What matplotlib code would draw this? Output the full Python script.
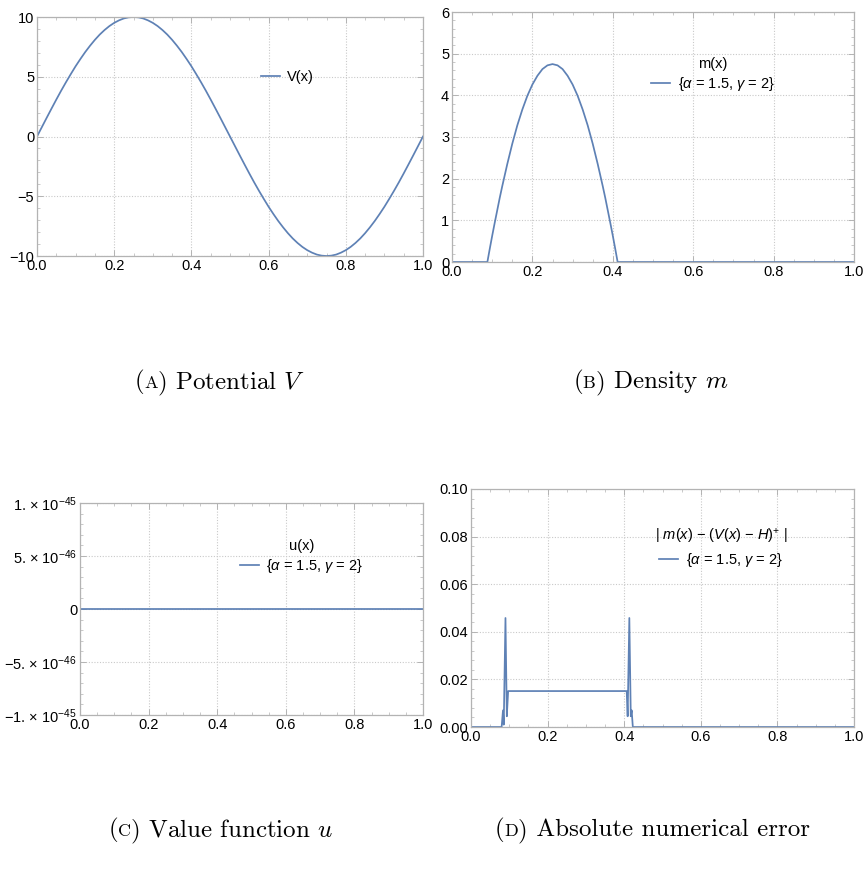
import matplotlib
matplotlib.use("Agg")
import matplotlib.pyplot as plt
from matplotlib.ticker import FixedLocator, AutoMinorLocator

plt.rcParams['font.family'] = ['Liberation Sans', 'DejaVu Sans']
plt.rcParams['mathtext.fontset'] = 'custom'
plt.rcParams['mathtext.rm'] = 'Liberation Sans'
plt.rcParams['mathtext.it'] = 'Liberation Sans:italic'
plt.rcParams['mathtext.bf'] = 'Liberation Sans:bold'
plt.rcParams['axes.unicode_minus'] = True

# ---------------- data ----------------
v_x = [0.0, 0.0125, 0.025, 0.0375, 0.05, 0.0625, 0.075, 0.0875, 0.1, 0.1125,
       0.125, 0.1375, 0.15, 0.1625, 0.175, 0.1875, 0.2, 0.2125, 0.225, 0.2375,
       0.25, 0.2625, 0.275, 0.2875, 0.3, 0.3125, 0.325, 0.3375, 0.35, 0.3625,
       0.375, 0.3875, 0.4, 0.4125, 0.425, 0.4375, 0.45, 0.4625, 0.475, 0.4875,
       0.5, 0.5125, 0.525, 0.5375, 0.55, 0.5625, 0.575, 0.5875, 0.6, 0.6125,
       0.625, 0.6375, 0.65, 0.6625, 0.675, 0.6875, 0.7, 0.7125, 0.725, 0.7375,
       0.75, 0.7625, 0.775, 0.7875, 0.8, 0.8125, 0.825, 0.8375, 0.85, 0.8625,
       0.875, 0.8875, 0.9, 0.9125, 0.925, 0.9375, 0.95, 0.9625, 0.975, 0.9875,
       1.0]
v_y = [0.0, 0.78, 1.56, 2.33, 3.09, 3.83, 4.54, 5.22, 5.88, 6.49,
       7.07, 7.60, 8.09, 8.53, 8.91, 9.24, 9.51, 9.72, 9.88, 9.97,
       10.0, 9.97, 9.88, 9.72, 9.51, 9.24, 8.91, 8.53, 8.09, 7.60,
       7.07, 6.49, 5.88, 5.22, 4.54, 3.83, 3.09, 2.33, 1.56, 0.78,
       0.0, -0.78, -1.56, -2.33, -3.09, -3.83, -4.54, -5.22, -5.88, -6.49,
       -7.07, -7.60, -8.09, -8.53, -8.91, -9.24, -9.51, -9.72, -9.88, -9.97,
       -10.0, -9.97, -9.88, -9.72, -9.51, -9.24, -8.91, -8.53, -8.09, -7.60,
       -7.07, -6.49, -5.88, -5.22, -4.54, -3.83, -3.09, -2.33, -1.56, -0.78,
       0.0]

m_x = [0.0, 0.088, 0.094, 0.1, 0.10625, 0.1125, 0.11875, 0.125, 0.1375, 0.15,
       0.1625, 0.175, 0.1875, 0.2, 0.2125, 0.225, 0.2375, 0.25, 0.2625, 0.275,
       0.2875, 0.3, 0.3125, 0.325, 0.3375, 0.35, 0.3625, 0.375, 0.38125, 0.3875,
       0.39375, 0.4, 0.406, 0.412, 1.0]
m_y = [0.0, 0.0, 0.32, 0.63, 0.94, 1.24, 1.54, 1.82, 2.35, 2.84,
       3.28, 3.66, 3.99, 4.26, 4.47, 4.63, 4.72, 4.75, 4.72, 4.63,
       4.47, 4.26, 3.99, 3.66, 3.28, 2.84, 2.35, 1.82, 1.54, 1.24,
       0.94, 0.63, 0.32, 0.0, 0.0]

u_x = [0.0, 0.25, 0.5, 0.75, 1.0]
u_y = [0.0, 0.0, 0.0, 0.0, 0.0]

e_x = [0.0, 0.080, 0.0835, 0.0855, 0.0900, 0.0935, 0.0970,
       0.4065, 0.4090, 0.4134, 0.4172, 0.4195, 0.4225, 1.0]
e_y = [0.0, 0.0, 0.0070, 0.0010, 0.0458, 0.0045, 0.0151,
       0.0151, 0.0045, 0.0458, 0.0045, 0.0070, 0.0, 0.0]

x_ticks = [0.0, 0.2, 0.4, 0.6, 0.8, 1.0]
x_ticklabels = ["0.0", "0.2", "0.4", "0.6", "0.8", "1.0"]
a_yticks = [-10, -5, 0, 5, 10]
a_yticklabels = ["\u221210", "\u22125", "0", "5", "10"]
b_yticks = [0, 1, 2, 3, 4, 5, 6]
b_yticklabels = ["0", "1", "2", "3", "4", "5", "6"]
c_yticks = [-1e-45, -5e-46, 0.0, 5e-46, 1e-45]
c_yticklabels = ["\u22121. \u00d7 10$^{-45}$", "\u22125. \u00d7 10$^{-46}$", "0",
                 "5. \u00d7 10$^{-46}$", "1. \u00d7 10$^{-45}$"]
d_yticks = [0.0, 0.02, 0.04, 0.06, 0.08, 0.10]
d_yticklabels = ["0.00", "0.02", "0.04", "0.06", "0.08", "0.10"]

legend_entry = r"{$\alpha$ = 1.5, $\gamma$ = 2}"
captions = [("A", " Potential $V$"), ("B", " Density $m$"),
            ("C", " Value function $u$"), ("D", " Absolute numerical error")]

# ---------------- figure ----------------
W, H = 865, 871
fig = plt.figure(figsize=(W / 100, H / 100), dpi=100)

def rect(l, r, t, b):
    return [l / W, 1 - b / H, (r - l) / W, (b - t) / H]

LINE = "#5E81B5"
SPINE = "#b3b3b3"
GRID = "#c9c9c9"
FS = 10.5

def style(ax, ylim, yt, ytl):
    ax.set_xlim(0, 1)
    ax.set_ylim(*ylim)
    ax.xaxis.set_major_locator(FixedLocator(x_ticks))
    ax.set_xticklabels(x_ticklabels)
    ax.yaxis.set_major_locator(FixedLocator(yt))
    ax.set_yticklabels(ytl)
    ax.xaxis.set_minor_locator(AutoMinorLocator(4))
    ax.yaxis.set_minor_locator(AutoMinorLocator(5))
    for s in ax.spines.values():
        s.set_color(SPINE)
        s.set_linewidth(0.9)
    ax.tick_params(which='both', direction='in', color=SPINE, top=True, right=True,
                   labeltop=False, labelright=False)
    ax.tick_params(which='major', length=4, width=0.7, labelsize=FS, pad=2,
                   labelcolor='black')
    ax.tick_params(which='minor', length=2, width=0.5)
    ax.grid(True, which='major', linestyle=(0, (1, 1.5)), color=GRID, linewidth=0.8)
    ax.set_axisbelow(True)

def add_legend(ax, line, label, cx, cy, title=None):
    leg = ax.legend([line], [label], loc='center', bbox_to_anchor=(cx, cy),
                    frameon=False, fontsize=FS, handlelength=1.3,
                    handletextpad=0.5, title=title, title_fontsize=FS,
                    borderpad=0, labelspacing=0.3)
    return leg

# A
axA = fig.add_axes(rect(37, 423, 17, 256))
lA, = axA.plot(v_x, v_y, color=LINE, lw=1.25)
style(axA, (-10, 10), a_yticks, a_yticklabels)
add_legend(axA, lA, "V(x)", 0.649, 0.749)

# B
axB = fig.add_axes(rect(452, 854, 12, 262))
lB, = axB.plot(m_x, m_y, color=LINE, lw=1.25)
style(axB, (0, 6), b_yticks, b_yticklabels)
add_legend(axB, lB, legend_entry, 0.649, 0.748, title="m(x)")

# C
axC = fig.add_axes(rect(80, 423, 503, 715))
lC, = axC.plot(u_x, u_y, color=LINE, lw=1.25)
style(axC, (-1e-45, 1e-45), c_yticks, c_yticklabels)
add_legend(axC, lC, legend_entry, 0.645, 0.745, title="u(x)")

# D
axD = fig.add_axes(rect(471, 854, 489, 727))
lD, = axD.plot(e_x, e_y, color=LINE, lw=1.25)
style(axD, (0, 0.10), d_yticks, d_yticklabels)
add_legend(axD, lD, legend_entry, 0.653, 0.752,
           title=r"| $m(x)$ $-$ ($V(x)$ $-$ $H$)$^{+}$ |")

# captions with small-caps letter
renderer = fig.canvas.get_renderer()

def caption(xc, y, letter, rest, size=18):
    pieces = [("(", size), (letter, size * 0.72), (")", size), (rest, size)]
    texts = []
    for s, fs in pieces:
        t = fig.text(0, 1 - y / H, s, fontsize=fs, family='cmr10',
                     math_fontfamily='cm', ha='left', va='baseline')
        texts.append(t)
    widths = [t.get_window_extent(renderer).width for t in texts]
    x = xc - sum(widths) / 2
    for t, w in zip(texts, widths):
        t.set_x(x / W)
        x += w

caption(220, 388, *captions[0])
caption(651, 388, *captions[1])
caption(221, 836, *captions[2])
caption(652, 836, *captions[3])

fig.savefig("out.png", dpi=100)
